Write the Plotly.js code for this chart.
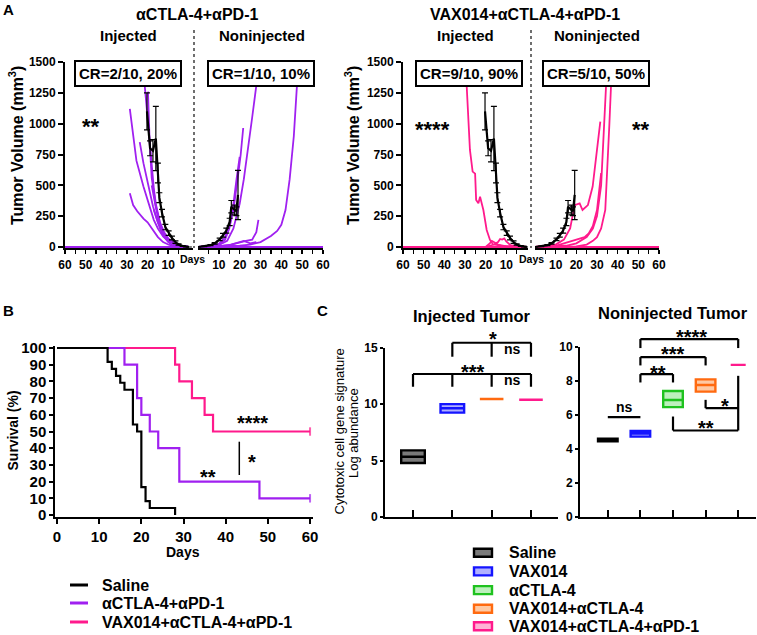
<!DOCTYPE html>
<html><head><meta charset="utf-8">
<script src="https://cdn.plot.ly/plotly-3.0.1.min.js"></script>
<style>html,body{margin:0;padding:0;background:#fff}#chart{width:757px;height:635px}</style>
</head><body><div id="chart"></div>
<script>
// ================= DATA =================
// Panel A – saline mean tumour volume (mm3) ± SEM
const salineInjDays = [0, 1.5, 3, 5, 6.5, 8.2, 9.8, 11.4, 13, 14.3, 15, 16, 17.4, 18.8, 20.3];
const salineInjMean = [0, 3, 8, 20, 40, 73, 113, 162, 275, 400, 600, 880, 780, 800, 1100];
const salineInjErr  = [0, 2, 3, 6, 10, 15, 18, 22, 30, 40, 80, 260, 90, 60, 150];
const salineNonDays = [0, 3, 6, 8, 10.4, 12, 13.6, 15.2, 16, 17.6, 18.4, 19.2];
const salineNonMean = [0, 5, 15, 30, 62, 95, 133, 203, 327, 300, 290, 422];
const salineNonErr  = [0, 2, 4, 6, 10, 15, 20, 30, 50, 40, 35, 200];

// Panel A – individual mice, αCTLA-4+αPD-1
const comboInjDays = [
  [0, 3, 5, 7, 10, 12, 14, 16, 17, 18, 19, 20, 21.4],
  [0, 4, 7, 10, 12, 14, 16, 18, 19, 19.8],
  [0, 4, 7, 10, 12.5, 15, 17, 20, 22, 25.4, 28.6],
  [0, 4, 7, 10, 12.5, 15, 17.4, 19, 20.6, 22, 23.8],
  [0, 5, 8, 10, 12.5, 15, 17, 20, 22, 25, 27, 28.6],
  [0, 4, 7, 10, 12, 14, 16, 17, 18],
  [0, 5, 8, 10, 12, 14, 16, 17],
  [0, 10, 20, 30, 40, 50, 60],
  [0, 10, 20, 30, 40, 50, 60]
];
const comboInjVols = [
  [0, 5, 15, 30, 70, 120, 200, 350, 480, 650, 850, 1050, 1310],
  [0, 8, 25, 60, 110, 190, 330, 560, 850, 1260],
  [0, 5, 20, 50, 85, 150, 220, 380, 490, 700, 1120],
  [0, 6, 25, 60, 110, 200, 330, 450, 560, 680, 850],
  [0, 3, 10, 20, 40, 80, 130, 200, 230, 290, 340, 435],
  [0, 6, 20, 50, 90, 170, 320, 420, 500],
  [0, 5, 15, 40, 80, 150, 250, 300],
  [0, 0, 0, 0, 0, 0, 0],
  [0, 0, 0, 0, 0, 0, 0]
];
const comboNonDays = [
  [0, 6, 10, 14, 17, 20, 22, 24, 26, 28],
  [0, 6, 10, 13, 15, 17, 19, 20.5, 21.7],
  [0, 6, 10, 13, 15, 17, 18.5, 20],
  [0, 8, 12, 16, 20, 23, 26, 28, 29],
  [0, 10, 20, 25, 30, 35, 38, 40, 42, 44, 46, 47.5],
  [0, 10, 15, 20, 22, 25, 28],
  [0, 10, 20, 30, 40, 50, 60]
];
const comboNonVols = [
  [0, 3, 15, 50, 150, 350, 550, 780, 1050, 1310],
  [0, 5, 20, 60, 150, 300, 550, 750, 965],
  [0, 5, 25, 80, 180, 350, 550, 730],
  [0, 3, 10, 20, 40, 50, 60, 120, 220],
  [0, 3, 10, 20, 40, 90, 130, 180, 300, 550, 900, 1310],
  [0, 5, 15, 40, 50, 30, 40],
  [0, 0, 0, 0, 0, 0, 0]
];

// Panel A – individual mice, VAX014+αCTLA-4+αPD-1
const tripleInjDays = [
  [0, 8, 12, 14, 16.4, 17.9, 19.5, 21.1, 21.9, 22.7, 23.5, 24.6, 25.1, 26.3, 27.6, 29.2],
  [0, 5, 8, 10, 11, 12, 13, 14, 16, 18, 20],
  [0, 10, 14, 16, 17, 18, 19, 20],
  [0, 10, 20, 30, 40, 50, 60]
];
const tripleInjVols = [
  [0, 3, 8, 15, 20, 57, 138, 300, 354, 408, 354, 381, 595, 611, 787, 1314],
  [0, 5, 15, 45, 70, 60, 65, 40, 20, 10, 0],
  [0, 5, 20, 40, 50, 30, 15, 0],
  [0, 0, 0, 0, 0, 0, 0]
];
const tripleNonDays = [
  [0, 15, 20, 25, 28, 30, 32, 33, 34.4],
  [0, 20, 25, 28, 30, 32, 34, 35, 36, 36.8],
  [0, 10, 14, 17, 19.2, 21.6, 23, 25.6, 27.9, 30, 31.6],
  [0, 10, 16, 20, 24, 26, 28, 30, 32],
  [0, 10, 20, 30, 40, 50, 60]
];
const tripleNonVols = [
  [0, 10, 30, 80, 150, 250, 500, 800, 1314],
  [0, 5, 20, 50, 80, 150, 300, 600, 1000, 1314],
  [0, 20, 60, 150, 340, 354, 300, 340, 490, 780, 1016],
  [0, 10, 40, 60, 80, 110, 170, 300, 600],
  [0, 0, 0, 0, 0, 0, 0]
];
const aVolTicks = [0, 250, 500, 750, 1000, 1250, 1500];
const aDayTicks = [10, 20, 30, 40, 50, 60];
const aDayMinor = [5, 15, 25, 35, 45, 55];

// Panel B – Kaplan–Meier survival (%)
const kmSalineDays = [0, 12, 13, 14, 15, 16, 18, 19, 20, 21, 22, 28];
const kmSalineSurv = [100, 91.7, 87.5, 83.3, 79.2, 75, 54.2, 50, 16.7, 8.3, 4.2, 0];
const kmComboDays  = [0, 16, 19, 20, 22, 24, 29, 48, 60];
const kmComboSurv  = [100, 90, 70, 60, 50, 40, 20, 10, 10];
const kmTripleDays = [0, 28, 29, 32, 35, 37, 60];
const kmTripleSurv = [100, 90, 80, 70, 60, 50, 50];
const kmNames = ['Saline', 'αCTLA-4+αPD-1', 'VAX014+αCTLA-4+αPD-1'];

// Panel C – cytotoxic cell gene signature (log abundance): min / median / max
const cLeftGroups = ['Saline', 'VAX014', 'VAX014+αCTLA-4', 'VAX014+αCTLA-4+αPD-1'];
const cLeftMin = [4.78, 9.25, 10.45, 10.39];
const cLeftMed = [5.34, 9.63, 10.45, 10.39];
const cLeftMax = [5.9, 10.0, 10.45, 10.39];
const cRightGroups = ['Saline', 'VAX014', 'αCTLA-4', 'VAX014+αCTLA-4', 'VAX014+αCTLA-4+αPD-1'];
const cRightMin = [4.45, 4.72, 6.45, 7.36, 8.93];
const cRightMed = [4.52, 4.9, 6.87, 7.75, 8.93];
const cRightMax = [4.6, 5.05, 7.4, 8.08, 8.93];

// ================= STYLE / GEOMETRY =================
const W = 757, H = 635;
const FONT = 'Liberation Sans, Arial, Helvetica, sans-serif';
const BLACK = '#000000', PURPLE = '#A020F0', PINK = '#FF1A8C';
const cLine = ['#000000', '#1414FF', '#1FC21F', '#FF6A10', '#FF1A8C'];
const cFill = ['#7a7a7a', '#B0B0FF', '#BDF0BD', '#FFC9A3', '#FFB3D6'];
const cLeftColorIdx = [0, 1, 3, 4];

// axis pixel geometry: p = [pixel at r[0], pixel at r[1]]
const AX = {
  x1: {p: [65, 193], r: [60, -2]},   y1: {p: [248.23, 62], r: [-10, 1500]},
  x2: {p: [198, 323], r: [0, 60]},   y2: {p: [248.23, 62], r: [-10, 1500]},
  x3: {p: [403, 528], r: [60, -0.5]},y3: {p: [248.23, 62], r: [-10, 1500]},
  x4: {p: [535, 659], r: [0, 60]},   y4: {p: [248.23, 62], r: [-10, 1500]},
  x5: {p: [55.3, 313], r: [-0.4, 60.7]}, y5: {p: [516.7, 345.5], r: [-1, 101.5]},
  x6: {p: [385, 558], r: [-0.712, 3.687]}, y6: {p: [517, 347.7], r: [0, 15]},
  x7: {p: [580, 756], r: [-0.853, 4.546]}, y7: {p: [517, 346.7], r: [0, 10]}
};
const toPx = (a, v) => AX[a].p[0] + (v - AX[a].r[0]) / (AX[a].r[1] - AX[a].r[0]) * (AX[a].p[1] - AX[a].p[0]);
const PX = p => p / W, PY = p => 1 - p / H;
function xdom(a) { const p = AX[a].p; return [Math.min(...p) / W, Math.max(...p) / W]; }
function ydom(a) { const p = AX[a].p; return [1 - Math.max(...p) / H, 1 - Math.min(...p) / H]; }

// ================= TRACES =================
const traces = [];
function lines(xs, ys, xa, ya, color, width) {
  xs.forEach((x, i) => traces.push({type: 'scatter', mode: 'lines', x: x, y: ys[i], xaxis: xa, yaxis: ya,
    line: {color: color, width: width}, showlegend: false, hoverinfo: 'skip'}));
}
function mean(x, y, e, xa, ya) {
  traces.push({type: 'scatter', mode: 'lines', x: x, y: y, xaxis: xa, yaxis: ya,
    line: {color: BLACK, width: 2.2}, showlegend: false, hoverinfo: 'skip',
    error_y: {type: 'data', array: e, visible: true, color: BLACK, thickness: 1.2, width: 3}});
}
lines(comboInjDays, comboInjVols, 'x', 'y', PURPLE, 1.8);
mean(salineInjDays, salineInjMean, salineInjErr, 'x', 'y');
lines(comboNonDays, comboNonVols, 'x2', 'y2', PURPLE, 1.8);
mean(salineNonDays, salineNonMean, salineNonErr, 'x2', 'y2');
lines(tripleInjDays, tripleInjVols, 'x3', 'y3', PINK, 1.8);
mean(salineInjDays, salineInjMean, salineInjErr, 'x3', 'y3');
lines(tripleNonDays, tripleNonVols, 'x4', 'y4', PINK, 1.8);
mean(salineNonDays, salineNonMean, salineNonErr, 'x4', 'y4');

// KM curves (pink first, black on top)
function km(x, y, color, censor) {
  const n = x.length;
  traces.push({type: 'scatter', mode: censor ? 'lines+markers' : 'lines', x: x, y: y, xaxis: 'x5', yaxis: 'y5',
    line: {color: color, width: 2.2, shape: 'hv'}, showlegend: false, hoverinfo: 'skip',
    marker: {symbol: 'line-ns', size: x.map((_, i) => i === n - 1 ? 6 : 0), line: {color: color, width: 2}}});
}
km(kmTripleDays, kmTripleSurv, PINK, true);
km(kmComboDays, kmComboSurv, PURPLE, true);
km(kmSalineDays, kmSalineSurv, BLACK, false);

// Panel C floating boxes
function cbox(i, lo, med, hi, xa, ya, ci, w) {
  traces.push({type: 'box', x: [i], q1: [lo], median: [med], q3: [hi], lowerfence: [lo], upperfence: [hi],
    xaxis: xa, yaxis: ya, width: w, whiskerwidth: 0, boxpoints: false,
    fillcolor: cFill[ci], line: {color: cLine[ci], width: 2.4}, showlegend: false, hoverinfo: 'skip'});
}
cLeftGroups.forEach((g, i) => cbox(i, cLeftMin[i], cLeftMed[i], cLeftMax[i], 'x6', 'y6', cLeftColorIdx[i], 0.6));
cRightGroups.forEach((g, i) => cbox(i, cRightMin[i], cRightMed[i], cRightMax[i], 'x7', 'y7', i, i === 4 ? 0.46 : 0.6));

// ================= LAYOUT =================
const tf = s => ({family: FONT, size: s, color: '#000', weight: 'bold'});
const base = {showgrid: false, zeroline: false, fixedrange: true, linecolor: '#000', tickcolor: '#000'};
function aX(a, anchor) {
  return Object.assign({}, base, {domain: xdom(a), range: AX[a].r, anchor: anchor, showline: true, linewidth: 2,
    ticks: 'outside', ticklen: 4, tickwidth: 1.5, tickvals: aDayTicks, ticktext: aDayTicks.map(String), tickfont: tf(12),
    minor: {tickmode: 'array', tickvals: aDayMinor, ticks: 'outside', ticklen: 4, tickwidth: 1.5, tickcolor: '#000', showgrid: false}});
}
function aY(a, anchor, vis) {
  return Object.assign({}, base, {domain: ydom(a), range: AX[a].r, anchor: anchor, visible: vis, showline: true,
    linewidth: 2, ticks: 'outside', ticklen: 5, tickwidth: 2, tickvals: aVolTicks, tickfont: tf(12)});
}
const layout = {
  width: W, height: H, margin: {l: 0, r: 0, t: 0, b: 0}, paper_bgcolor: '#fff', plot_bgcolor: 'rgba(0,0,0,0)',
  showlegend: false, boxmode: 'overlay', font: {family: FONT, color: '#000'},
  xaxis: aX('x1', 'y'), yaxis: aY('y1', 'x', true),
  xaxis2: aX('x2', 'y2'), yaxis2: aY('y2', 'x2', false),
  xaxis3: aX('x3', 'y3'), yaxis3: aY('y3', 'x3', true),
  xaxis4: aX('x4', 'y4'), yaxis4: aY('y4', 'x4', false),
  xaxis5: Object.assign({}, base, {domain: xdom('x5'), range: AX.x5.r, anchor: 'y5', showline: true, linewidth: 2,
    ticks: 'outside', ticklen: 5, tickwidth: 2, tickvals: [0, 10, 20, 30, 40, 50, 60], tickfont: tf(15)}),
  yaxis5: Object.assign({}, base, {domain: ydom('y5'), range: AX.y5.r, anchor: 'x5', showline: true, linewidth: 2,
    ticks: 'outside', ticklen: 4, tickwidth: 2, tickvals: [0, 10, 20, 30, 40, 50, 60, 70, 80, 90, 100], tickfont: tf(15)}),
  xaxis6: Object.assign({}, base, {domain: xdom('x6'), range: AX.x6.r, anchor: 'y6', showline: true, linewidth: 2,
    ticks: 'inside', ticklen: 7, tickwidth: 2, tickvals: [0, 1, 2, 3], showticklabels: false}),
  yaxis6: Object.assign({}, base, {domain: ydom('y6'), range: AX.y6.r, anchor: 'x6', showline: true, linewidth: 2,
    ticks: 'outside', ticklen: 3, tickwidth: 2, tickvals: [0, 5, 10, 15], tickfont: tf(12)}),
  xaxis7: Object.assign({}, base, {domain: xdom('x7'), range: AX.x7.r, anchor: 'y7', showline: true, linewidth: 2,
    ticks: 'inside', ticklen: 7, tickwidth: 2, tickvals: [0, 1, 2, 3, 4], showticklabels: false}),
  yaxis7: Object.assign({}, base, {domain: ydom('y7'), range: AX.y7.r, anchor: 'x7', showline: true, linewidth: 2,
    ticks: 'outside', ticklen: 3, tickwidth: 2, tickvals: [0, 2, 4, 6, 8, 10], tickfont: tf(12)}),
  annotations: [], shapes: []
};

// ---- annotations ----
function ann(text, x, y, size, o) {
  layout.annotations.push(Object.assign({text: text, x: PX(x), y: PY(y), xref: 'paper', yref: 'paper',
    showarrow: false, xanchor: 'center', yanchor: 'middle', font: tf(size)}, o || {}));
}
ann('A', 8, 9, 15); ann('B', 8.5, 310, 15); ann('C', 322.5, 310, 15);
ann('αCTLA-4+αPD-1', 197, 15, 16); ann('VAX014+αCTLA-4+αPD-1', 525, 15, 16);
ann('Injected', 128.5, 36, 15); ann('Noninjected', 261.5, 36, 15);
ann('Injected', 465, 36, 15); ann('Noninjected', 596.5, 36, 15);
const crBox = {bordercolor: '#000', borderwidth: 2, borderpad: 3, bgcolor: '#fff'};
ann('CR=2/10, 20%', 128, 73, 15, crBox); ann('CR=1/10, 10%', 261, 73.5, 15, crBox);
ann('CR=9/10, 90%', 469, 73.5, 15, crBox); ann('CR=5/10, 50%', 596, 73.5, 15, crBox);
ann('**', 91, 127, 22); ann('****', 432, 129, 22); ann('**', 641, 129, 22);
ann('Tumor Volume (mm<sup>3</sup>)', 16, 146, 16, {textangle: -90});
ann('Tumor Volume (mm<sup>3</sup>)', 352, 146, 16, {textangle: -90});
ann('Days', 193, 259, 10.5); ann('Days', 531, 259, 10.5);
// Panel B
ann('Days', 183, 552, 14); ann('Survival (%)', 12.5, 431, 14, {textangle: -90});
ann('****', 252, 423, 20); ann('*', 252, 462, 20); ann('**', 208, 477, 20);
kmNames.forEach((t, i) => ann(t, 100, [585, 603, 622][i], 16, {xanchor: 'left'}));
// Panel C
ann('Injected Tumor', 472, 316, 16.5); ann('Noninjected Tumor', 673, 313, 16.5);
ann('Cytotoxic cell gene signature', 338.5, 432, 13, {textangle: -90, font: {family: FONT, size: 13, color: '#000'}});
ann('Log abundance', 353, 433, 13, {textangle: -90, font: {family: FONT, size: 13, color: '#000'}});
ann('***', 473, 372, 20); ann('ns', 512, 380, 14); ann('*', 493, 338.5, 20); ann('ns', 512, 349, 14);
ann('ns', 624, 407, 14); ann('**', 658, 372.5, 20); ann('***', 672.5, 354, 20); ann('****', 691.7, 336.5, 20);
ann('*', 725, 406, 20); ann('**', 705.5, 428, 20);
const cLegY = [552.7, 571.4, 590.1, 608.8, 626.2];
cRightGroups.forEach((t, i) => ann(t, 507, cLegY[i], 16, {xanchor: 'left'}));

// ---- shapes ----
function pline(x0, y0, x1, y1, color, width, dash) {
  layout.shapes.push({type: 'line', xref: 'paper', yref: 'paper', x0: PX(x0), y0: PY(y0), x1: PX(x1), y1: PY(y1),
    line: {color: color, width: width, dash: dash || 'solid'}});
}
pline(194, 30, 194, 248, '#222', 1.3, '3px,3px'); pline(531, 30, 531, 248, '#222', 1.3, '3px,3px');
pline(239.3, 441.7, 239.3, 475, '#000', 1.5);
[BLACK, PURPLE, PINK].forEach((c, i) => pline(70, [585, 603, 622][i], 88, [585, 603, 622][i], c, 3));
cRightGroups.forEach((t, i) => layout.shapes.push({type: 'rect', xref: 'paper', yref: 'paper',
  x0: PX(474), x1: PX(492), y0: PY(cLegY[i] + 4), y1: PY(cLegY[i] - 4),
  fillcolor: cFill[i], line: {color: cLine[i], width: 2.4}}));
// significance brackets in data coordinates of the C panels
function dseg(xa, ya, xv0, yv0, xv1, yv1) { pline(toPx(xa, xv0), toPx(ya, yv0), toPx(xa, xv1), toPx(ya, yv1), '#000', 2.2); }
// left
dseg('x6', 'y6', 0, 12.67, 3, 12.67); [0, 1, 2, 3].forEach(i => dseg('x6', 'y6', i, 12.67, i, 11.54));
dseg('x6', 'y6', 1, 15.44, 3, 15.44); [1, 2, 3].forEach(i => dseg('x6', 'y6', i, 15.44, i, 14.2));
// right
dseg('x7', 'y7', 0, 5.86, 1, 5.86);
dseg('x7', 'y7', 1, 8.39, 2, 8.39); dseg('x7', 'y7', 1, 8.39, 1, 7.9); dseg('x7', 'y7', 2, 8.39, 2, 7.9);
dseg('x7', 'y7', 1, 9.39, 3, 9.39); dseg('x7', 'y7', 1, 9.39, 1, 8.9); dseg('x7', 'y7', 3, 9.39, 3, 8.9);
dseg('x7', 'y7', 1, 10.45, 4, 10.45); dseg('x7', 'y7', 1, 10.45, 1, 9.92); dseg('x7', 'y7', 4, 10.45, 4, 9.92);
dseg('x7', 'y7', 3, 6.39, 4, 6.39); dseg('x7', 'y7', 3, 6.39, 3, 6.88); dseg('x7', 'y7', 4, 5.08, 4, 8.29);
dseg('x7', 'y7', 2, 5.08, 4, 5.08); dseg('x7', 'y7', 2, 5.08, 2, 5.9);

Plotly.newPlot('chart', traces, layout, {displayModeBar: false, staticPlot: true});
</script></body></html>
